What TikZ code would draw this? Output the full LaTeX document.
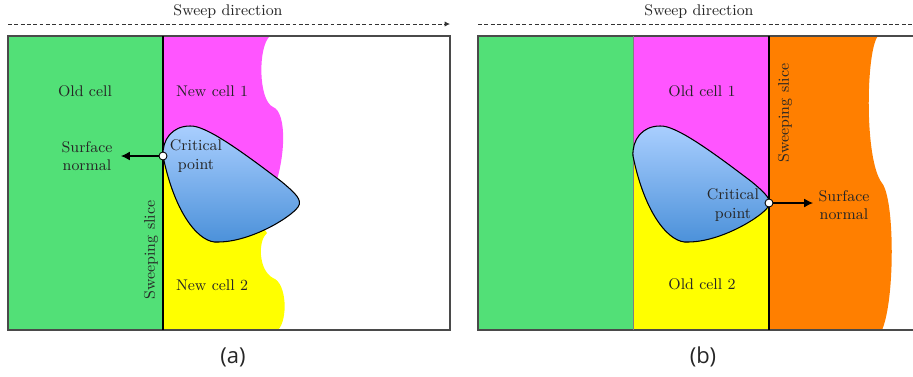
\documentclass[tikz,border=0pt]{standalone}
\usepackage{fontspec}
\newfontfamily\capfont{Open Sans}
\usepackage{xcolor}
\usetikzlibrary{arrows.meta}
\definecolor{cellGreen}{HTML}{52E077}
\definecolor{cellMagenta}{HTML}{FF55FF}
\definecolor{cellYellow}{HTML}{FFFF00}
\definecolor{cellOrange}{HTML}{FF7F00}
\definecolor{obstTop}{HTML}{AACFFF}
\definecolor{obstBottom}{HTML}{4A90D9}
\definecolor{frameGray}{HTML}{4A4A4A}
\tikzset{
  lbl/.style={font=\fontsize{8.8}{10.5}\selectfont, align=center, text=black!85},
  caption/.style={font=\capfont\fontsize{12.5}{14}\selectfont, text=black!85},
  cpoint/.style={circle, draw, fill=white, inner sep=0pt, minimum size=0.16cm, line width=0.5pt},
  obstacle/.style={draw, line width=0.6pt, top color=obstTop, bottom color=obstBottom},
  sweep/.style={-{Latex[length=3pt,width=3pt]}, dash pattern=on 2.2pt off 1.4pt, line width=0.5pt, black!80},
  normal/.style={-{Latex[length=5pt,width=5pt]}, line width=0.6pt}
}

\begin{document}
\begin{tikzpicture}[x=0.02cm, y=-0.02cm]
  \useasboundingbox (0,0) rectangle (913,376);
  \clip (0,0) rectangle (913,376);

  % (a)
  \fill[cellGreen] (8,36) rectangle (163,330);
  \fill[cellMagenta] (163,36) -- (270,36) .. controls (258,46) and (258,100) .. (273,107)
    .. controls (287,112) and (287,160) .. (270,200) -- (163,156) -- cycle;
  \fill[cellYellow] (163,156) -- (255,215) -- (267,233) .. controls (258,240) and (258,270) .. (273,278)
    .. controls (287,283) and (288,320) .. (278,330) -- (163,330) -- cycle;
  \draw[frameGray, line width=0.6pt] (8,36) rectangle (450,330);
  \draw[line width=0.6pt] (163,36) -- (163,330);
  \filldraw[obstacle] (163,156) .. controls (162,140) and (172,126) .. (190,126)
    .. controls (205,125) and (240,150) .. (282,182)
    .. controls (295,193) and (303,200) .. (298,207)
    .. controls (290,218) and (250,242) .. (218,242)
    .. controls (200,244) and (175,215) .. (163,156) -- cycle;

  \coordinate (swa0) at (8,24);
  \coordinate (swa1) at (450,24);
  \draw[sweep] (swa0) -- (swa1);
  \node[lbl] (swa) at (228,12) {Sweep direction};

  \node[cpoint] (cpa) at (163,156) {};
  \coordinate (nrma) at (121,156);
  \draw[normal] (cpa) -- (nrma);

  \node[lbl] (olda) at (85,91) {Old cell};
  \node[lbl] (newa1) at (212,91) {New cell 1};
  \node[lbl] (newa2) at (212,285) {New cell 2};
  \node[lbl] (surfa) at (87,156) {Surface\\normal};
  \node[lbl] (crita) at (196,156) {Critical\\point};
  \node[lbl, rotate=90] (slicea) at (151,250) {Sweeping slice};
  \node[caption] (capa) at (233,357) {(a)};

  % (b)
  \fill[cellGreen] (478,36) rectangle (633,330);
  \fill[cellMagenta] (633,36) -- (769,36) -- (769,203) -- (633,156) -- cycle;
  \fill[cellYellow] (633,156) -- (769,203) -- (769,330) -- (633,330) -- cycle;
  \fill[cellOrange] (769,36) -- (878,36) .. controls (866,50) and (864,160) .. (882,183)
    .. controls (895,200) and (895,300) .. (882,330) -- (769,330) -- cycle;
  \draw[frameGray, line width=0.6pt] (478,36) rectangle (920,330);
  \draw[frameGray!70, line width=0.4pt] (633,36) -- (633,330);
  \begin{scope}[shift={(470,0)}]
    \filldraw[obstacle] (163,156) .. controls (162,140) and (172,126) .. (190,126)
      .. controls (205,125) and (240,150) .. (282,182)
      .. controls (295,193) and (303,200) .. (298,207)
      .. controls (290,218) and (250,242) .. (218,242)
      .. controls (200,244) and (175,215) .. (163,156) -- cycle;
  \end{scope}
  \draw[line width=0.6pt] (769,36) -- (769,330);

  \coordinate (swb0) at (478,24);
  \coordinate (swb1) at (925,24);
  \draw[sweep] (swb0) -- (swb1);
  \node[lbl] (swb) at (699,12) {Sweep direction};

  \node[cpoint] (cpb) at (769,203) {};
  \coordinate (nrmb) at (813,203);
  \draw[normal] (cpb) -- (nrmb);

  \node[lbl] (oldb1) at (702,91) {Old cell 1};
  \node[lbl] (oldb2) at (702,284) {Old cell 2};
  \node[lbl] (surfb) at (844,205) {Surface\\normal};
  \node[lbl] (critb) at (733,205) {Critical\\point};
  \node[lbl, rotate=90] (sliceb) at (785,113) {Sweeping slice};
  \node[caption] (capb) at (703,357) {(b)};
\end{tikzpicture}
\end{document}
